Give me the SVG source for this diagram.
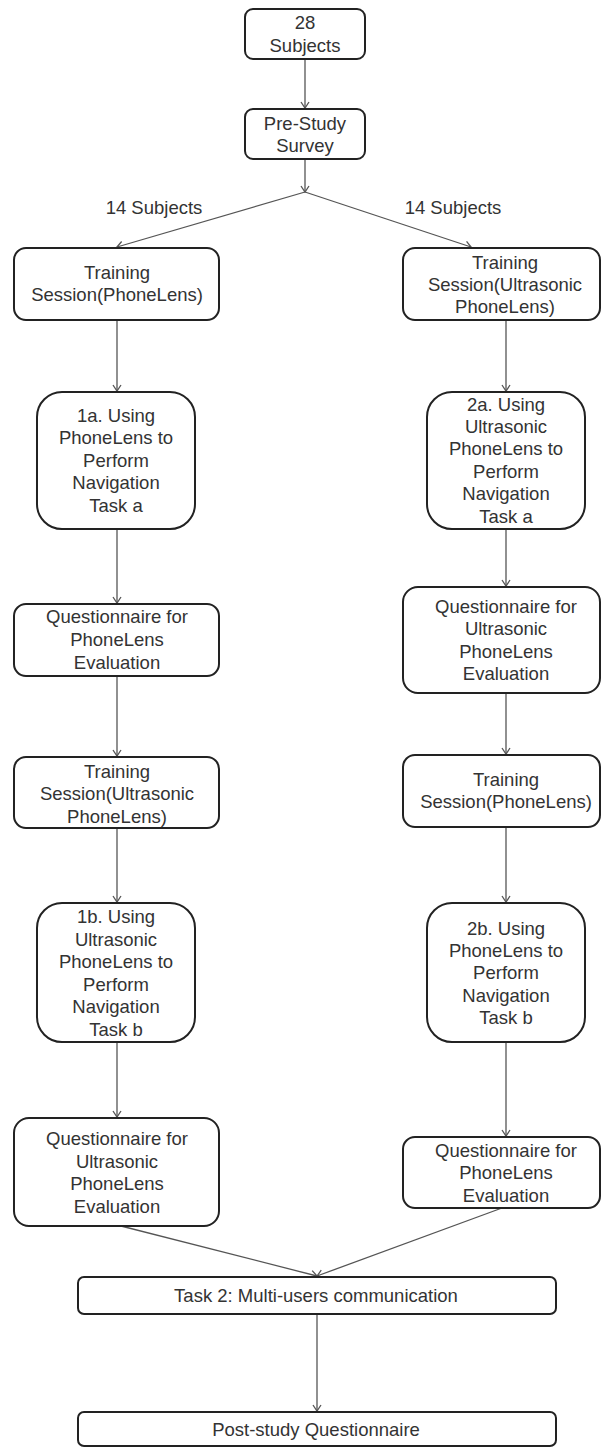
<svg xmlns="http://www.w3.org/2000/svg" width="603" height="1448" viewBox="0 0 603 1448">
<style>
.box{fill:#fff;stroke:#222;stroke-width:2}
.t{font-family:"Liberation Sans",Arial,sans-serif;font-size:18.5px;fill:#333;text-anchor:middle}
.c{fill:none;stroke:#555;stroke-width:1.3}
</style>
<defs>
<marker id="ah" markerUnits="userSpaceOnUse" markerWidth="12" markerHeight="12" refX="7" refY="5" orient="auto">
<path d="M1,1 L7,5 L1,9" fill="none" stroke="#555" stroke-width="1.3"/>
</marker>
</defs>
<rect width="603" height="1448" fill="#fff"/>
<g id="connectors">
<line class="c" x1="305" y1="59" x2="305" y2="108" marker-end="url(#ah)"/>
<line class="c" x1="305" y1="159" x2="305" y2="192" marker-end="url(#ah)"/>
<line class="c" x1="305" y1="192" x2="117" y2="247" marker-end="url(#ah)"/>
<line class="c" x1="305" y1="192" x2="471" y2="247" marker-end="url(#ah)"/>
<line class="c" x1="117" y1="320" x2="117" y2="391" marker-end="url(#ah)"/>
<line class="c" x1="506" y1="320" x2="506" y2="391" marker-end="url(#ah)"/>
<line class="c" x1="117" y1="529" x2="117" y2="603" marker-end="url(#ah)"/>
<line class="c" x1="506" y1="529" x2="506" y2="586" marker-end="url(#ah)"/>
<line class="c" x1="117" y1="676" x2="117" y2="756" marker-end="url(#ah)"/>
<line class="c" x1="506" y1="693" x2="506" y2="754" marker-end="url(#ah)"/>
<line class="c" x1="117" y1="828" x2="117" y2="902" marker-end="url(#ah)"/>
<line class="c" x1="506" y1="827" x2="506" y2="902" marker-end="url(#ah)"/>
<line class="c" x1="117" y1="1042" x2="117" y2="1117" marker-end="url(#ah)"/>
<line class="c" x1="506" y1="1042" x2="506" y2="1136" marker-end="url(#ah)"/>
<line class="c" x1="121" y1="1226" x2="317" y2="1276" marker-end="url(#ah)"/>
<line class="c" x1="502" y1="1208" x2="317" y2="1276" marker-end="url(#ah)"/>
<line class="c" x1="317" y1="1314" x2="317" y2="1411" marker-end="url(#ah)"/>
</g>
<text class="t" x="154" y="214">14 Subjects</text>
<text class="t" x="453" y="214">14 Subjects</text>
<g id="n28">
<rect class="box" x="245" y="9" width="120" height="50" rx="8"/>
<text class="t" x="305" y="29">28</text>
<text class="t" x="305" y="52">Subjects</text>
</g>
<g id="prestudy">
<rect class="box" x="245" y="109" width="120" height="50" rx="8"/>
<text class="t" x="305" y="130">Pre-Study</text>
<text class="t" x="305" y="152">Survey</text>
</g>
<g id="trainL1">
<rect class="box" x="14" y="248" width="205" height="72" rx="12"/>
<text class="t" x="117" y="279">Training</text>
<text class="t" x="117" y="301">Session(PhoneLens)</text>
</g>
<g id="trainR1">
<rect class="box" x="403" y="248" width="197" height="72" rx="12"/>
<text class="t" x="505" y="269">Training</text>
<text class="t" x="505" y="291">Session(Ultrasonic</text>
<text class="t" x="505" y="313">PhoneLens)</text>
</g>
<g id="task1a">
<rect class="box" x="37" y="392" width="158" height="137" rx="25"/>
<text class="t" x="116" y="422">1a. Using</text>
<text class="t" x="116" y="444">PhoneLens to</text>
<text class="t" x="116" y="467">Perform</text>
<text class="t" x="116" y="489">Navigation</text>
<text class="t" x="116" y="512">Task a</text>
</g>
<g id="task2a">
<rect class="box" x="427" y="392" width="158" height="137" rx="25"/>
<text class="t" x="506" y="411">2a. Using</text>
<text class="t" x="506" y="433">Ultrasonic</text>
<text class="t" x="506" y="455">PhoneLens to</text>
<text class="t" x="506" y="478">Perform</text>
<text class="t" x="506" y="500">Navigation</text>
<text class="t" x="506" y="523">Task a</text>
</g>
<g id="qL1">
<rect class="box" x="14" y="604" width="205" height="72" rx="12"/>
<text class="t" x="117" y="623">Questionnaire for</text>
<text class="t" x="117" y="646">PhoneLens</text>
<text class="t" x="117" y="669">Evaluation</text>
</g>
<g id="qR1">
<rect class="box" x="403" y="587" width="197" height="106" rx="15"/>
<text class="t" x="506" y="613">Questionnaire for</text>
<text class="t" x="506" y="635">Ultrasonic</text>
<text class="t" x="506" y="658">PhoneLens</text>
<text class="t" x="506" y="680">Evaluation</text>
</g>
<g id="trainL2">
<rect class="box" x="14" y="757" width="205" height="71" rx="12"/>
<text class="t" x="117" y="778">Training</text>
<text class="t" x="117" y="800">Session(Ultrasonic</text>
<text class="t" x="117" y="823">PhoneLens)</text>
</g>
<g id="trainR2">
<rect class="box" x="403" y="755" width="197" height="72" rx="12"/>
<text class="t" x="506" y="786">Training</text>
<text class="t" x="506" y="808">Session(PhoneLens)</text>
</g>
<g id="task1b">
<rect class="box" x="37" y="903" width="158" height="139" rx="25"/>
<text class="t" x="116" y="923">1b. Using</text>
<text class="t" x="116" y="946">Ultrasonic</text>
<text class="t" x="116" y="968">PhoneLens to</text>
<text class="t" x="116" y="991">Perform</text>
<text class="t" x="116" y="1013">Navigation</text>
<text class="t" x="116" y="1036">Task b</text>
</g>
<g id="task2b">
<rect class="box" x="427" y="903" width="158" height="139" rx="25"/>
<text class="t" x="506" y="935">2b. Using</text>
<text class="t" x="506" y="957">PhoneLens to</text>
<text class="t" x="506" y="979">Perform</text>
<text class="t" x="506" y="1002">Navigation</text>
<text class="t" x="506" y="1024">Task b</text>
</g>
<g id="qL2">
<rect class="box" x="14" y="1118" width="205" height="108" rx="15"/>
<text class="t" x="117" y="1145">Questionnaire for</text>
<text class="t" x="117" y="1168">Ultrasonic</text>
<text class="t" x="117" y="1190">PhoneLens</text>
<text class="t" x="117" y="1213">Evaluation</text>
</g>
<g id="qR2">
<rect class="box" x="403" y="1137" width="197" height="71" rx="12"/>
<text class="t" x="506" y="1157">Questionnaire for</text>
<text class="t" x="506" y="1179">PhoneLens</text>
<text class="t" x="506" y="1202">Evaluation</text>
</g>
<g id="task2">
<rect class="box" x="78" y="1277" width="478" height="37" rx="6"/>
<text class="t" x="316" y="1302">Task 2: Multi-users communication</text>
</g>
<g id="post">
<rect class="box" x="78" y="1412" width="478" height="34" rx="6"/>
<text class="t" x="316" y="1436">Post-study Questionnaire</text>
</g>
</svg>
